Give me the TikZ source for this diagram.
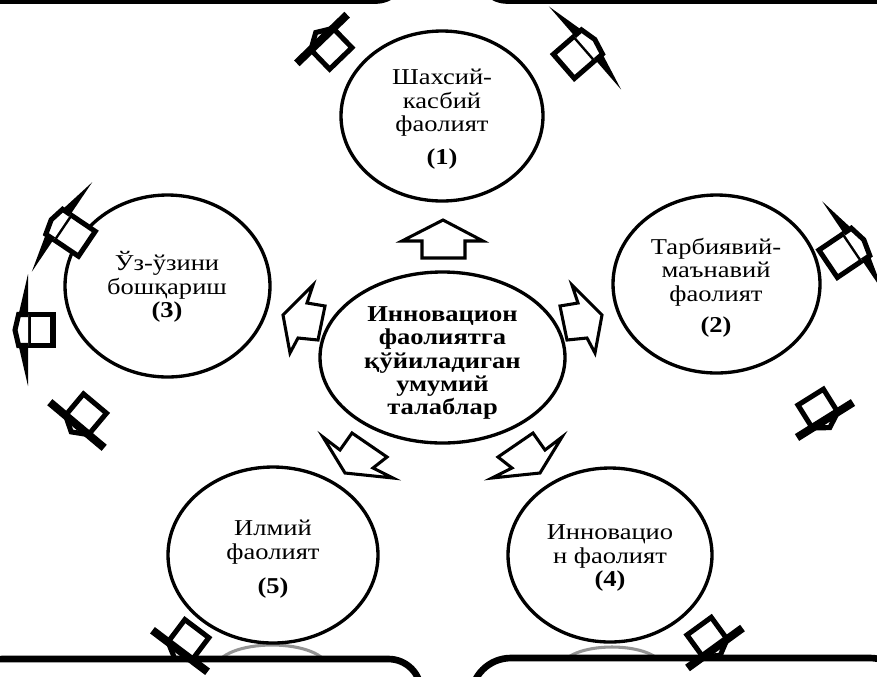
\documentclass[tikz,border=0pt]{standalone}
\usepackage{fontspec}
\setmainfont{Liberation Serif}[FakeStretch=1.17]
\usetikzlibrary{shapes.geometric}
\tikzset{
  ell/.style={ellipse, draw, line width=2.5pt, inner sep=0pt},
  etext/.style={align=center, inner sep=0pt, font=\fontsize{17}{17.6}\selectfont},
  inarrow/.style={draw, line width=2.3pt, line join=miter},
  outarrow/.style={draw, line width=3.8pt, line join=miter},
  boxline/.style={draw, line width=5pt},
  shadowarc/.style={draw=black!42, line width=2.3pt},
}
% #1,#2 head-base centre (px), #3 angle, #4 shaft length, #5 shaft width, #6 head length, #7 head width
\newcommand\OutSpike[7]{%
  \begin{scope}[shift={(#1,#2)},rotate=#3]
    \pgfmathsetmacro\myxa{#6*(1-#5/#7)}
    \fill[black] (0,-#7/2) -- (#6,0) -- (0,#7/2) -- cycle;
    \filldraw[outarrow,fill=white] (-#4,-#5/2) rectangle (0,#5/2);
    \filldraw[outarrow,fill=white] (0,-#5/2) -- (\myxa,-#5/2) -- (#6,0) -- (\myxa,#5/2) -- (0,#5/2);
  \end{scope}}
\newcommand\OutBar[7]{%
  \begin{scope}[shift={(#1,#2)},rotate=#3]
    \draw[line width=6pt] (0,-#7/2) -- (0,#7/2);
    \draw[outarrow] (-#4,-#5/2) rectangle (0,#5/2);
    \draw[outarrow] (0,-#5/2) -- (#6,0) -- (0,#5/2);
  \end{scope}}
\begin{document}
\begin{tikzpicture}[x=0.75pt,y=-0.75pt]
\useasboundingbox (0,0) rectangle (877,676);

% boxes at top
\draw[boxline, rounded corners=22pt] (-30,-200) rectangle (405,0.5);
\draw[boxline, rounded corners=22pt] (478,-200) rectangle (910,0.5);

% grey arcs and boxes at bottom
\draw[shadowarc] (272,667) ellipse [x radius=41.25pt, y radius=16.5pt];
\draw[shadowarc] (612,667) ellipse [x radius=37.5pt, y radius=15pt];
\filldraw[boxline, fill=white, rounded corners=24.5pt] (-30,659) rectangle (421,800);
\filldraw[boxline, fill=white, rounded corners=30pt] (471,658) rectangle (910,800);

% ellipses
\node[ell, minimum width=151.5pt, minimum height=127.5pt] (e1) at (442,116) {};
\node[ell, minimum width=155.25pt, minimum height=133.5pt] (e2) at (716.5,284) {};
\node[ell, minimum width=153.75pt, minimum height=136.5pt] (e3) at (167.5,286) {};
\node[ell, minimum width=157.5pt, minimum height=132pt] (e5) at (273,555) {};
\node[ell, minimum width=153pt, minimum height=130.5pt] (e4) at (610,555) {};
\node[ell, minimum width=183.75pt, minimum height=128.25pt] (c) at (442.5,357.5) {};

% texts
\node[etext] (t1) at (442,119.5) {Шахсий-\\касбий\\фаолият\\[7pt]\textbf{(1)}};
\node[etext] (t2) at (716,288) {Тарбиявий-\\маънавий\\фаолият\\[6pt]\textbf{(2)}};
\node[etext] (t3) at (167,287) {Ўз-ўзини\\бошқариш\\\textbf{(3)}};
\node[etext] (t5) at (273,559) {Илмий\\фаолият\\[8pt]\textbf{(5)}};
\node[etext] (t4) at (610,558) {Инновацио\\н фаолият\\\textbf{(4)}};
\node[etext, font=\fontsize{17}{17.6}\selectfont\bfseries] (tc) at (442.5,363)
  {Инновацион\\фаолиятга\\қўйиладиган\\умумий\\талаблар};

% inner block arrows
\draw[inarrow] (443,220) -- (483,241) -- (465,241) -- (465,258) -- (422,258) -- (422,241) -- (402,241) -- cycle;
\draw[inarrow] (313,285) -- (307,303) -- (325,306) -- (318,340) -- (298,338) -- (290,353) -- (283,315) -- cycle;
\draw[inarrow] (572,285) -- (578,303) -- (560,306) -- (567,340) -- (587,338) -- (595,353) -- (602,315) -- cycle;
\draw[inarrow] (323,437) -- (340,450) -- (352,433) -- (387,457) -- (373,468) -- (393,478) -- (345,473) -- cycle;
\draw[inarrow] (562,437) -- (545,450) -- (533,433) -- (498,457) -- (512,468) -- (492,478) -- (540,473) -- cycle;

% outer arrows
\OutBar{322}{39}{134}{27}{31}{9}{70}
\OutSpike{585}{48}{41}{28}{32}{13}{110}
\OutSpike{62}{227}{146}{30}{30}{13}{108}
\OutSpike{28}{330}{180}{25}{31}{13}{112}
\OutBar{77}{425}{230}{28}{30}{9}{71}
\OutSpike{853}{247}{34}{30}{33}{13}{110}
\OutBar{825}{420}{-58}{27}{30}{9}{66}
\OutBar{180}{651}{233}{28}{30}{9}{69}
\OutBar{715}{648}{-54}{27}{30}{9}{68}
\end{tikzpicture}
\end{document}
